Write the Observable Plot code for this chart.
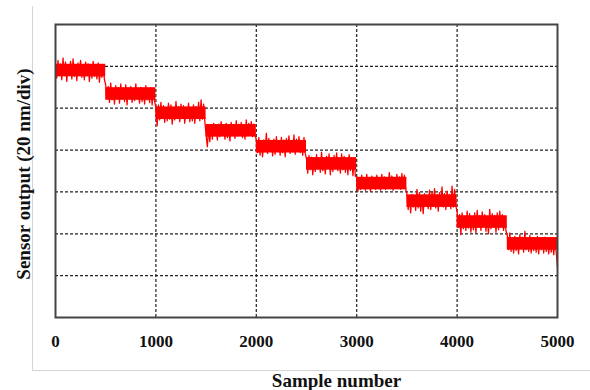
<!DOCTYPE html>
<html><head><meta charset="utf-8">
<script src="https://cdn.jsdelivr.net/npm/d3@7"></script>
<script src="https://cdn.jsdelivr.net/npm/@observablehq/plot@0.6"></script>
<style>
body{margin:0;background:#fff}
#wrap{position:relative;width:590px;height:390px;overflow:hidden}
#box{position:absolute;left:32px;top:6px;width:570px;height:364px;border-left:1px solid #d4d4d4;border-bottom:1px solid #d4d4d4}
#wrap svg{position:absolute;left:0;top:0}
</style>
</head><body>
<div id="wrap"><div id="box"></div></div>
<script>
// Step levels (divisions, 20 nm/div), one per 500-sample step
const levels = [5.90, 5.34, 4.88, 4.46, 4.08, 3.67, 3.20, 2.78, 2.28, 1.76];
// Noise readings around each level, one every 12.5 samples
const n1  = [0.10,-0.18,0.24,-0.06,0.16,-0.22,0.30,-0.12,0.20,-0.26,0.14,-0.08,0.22,-0.20,0.28,-0.14,0.12,-0.24,0.18,-0.10,0.24,-0.16,0.08,-0.22,0.20,-0.12,0.16,-0.26,0.10,-0.18,0.22,-0.14,0.12,-0.20,0.18,-0.28,0.08,-0.16,0.14,-0.22];
const n2  = [0.22,-0.10,0.18,-0.20,0.26,-0.14,0.12,-0.24,0.20,-0.08,0.16,-0.22,0.24,-0.12,0.10,-0.18,0.22,-0.26,0.14,-0.10,0.18,-0.20,0.12,-0.16,0.24,-0.12,0.08,-0.22,0.16,-0.18,0.10,-0.24,0.20,-0.14,0.06,-0.20,0.14,-0.26,0.08,-0.18];
const n3  = [0.14,-0.30,0.20,-0.16,0.26,-0.12,0.18,-0.22,0.10,-0.18,0.24,-0.14,0.20,-0.26,0.12,-0.16,0.28,-0.10,0.16,-0.20,0.22,-0.12,0.18,-0.24,0.14,-0.08,0.24,-0.20,0.10,-0.18,0.20,-0.24,0.16,-0.12,0.26,-0.18,0.32,-0.14,0.22,-0.20];
const n4  = [-0.10,-0.38,0.06,-0.26,0.14,-0.20,0.18,-0.12,0.08,-0.22,0.16,-0.14,0.22,-0.08,0.12,-0.20,0.18,-0.16,0.10,-0.24,0.20,-0.10,0.14,-0.18,0.24,-0.12,0.16,-0.08,0.20,-0.16,0.12,-0.20,0.26,-0.10,0.18,-0.06,0.22,-0.14,0.16,-0.12];
const n5  = [0.18,-0.14,0.22,-0.20,0.12,-0.24,0.16,-0.12,0.32,-0.16,0.20,-0.10,0.14,-0.22,0.18,-0.18,0.24,-0.08,0.12,-0.20,0.22,-0.14,0.16,-0.24,0.20,-0.10,0.26,-0.16,0.14,-0.12,0.28,-0.18,0.18,-0.10,0.24,-0.14,0.12,-0.20,0.22,-0.16];
const n6  = [0.12,-0.22,0.20,-0.14,0.16,-0.26,0.10,-0.18,0.22,-0.12,0.14,-0.20,0.28,-0.16,0.12,-0.24,0.18,-0.10,0.24,-0.26,0.14,-0.18,0.20,-0.12,0.26,-0.16,0.10,-0.22,0.24,-0.14,0.18,-0.20,0.12,-0.26,0.22,-0.16,0.14,-0.28,0.10,-0.30];
const n7  = [0.16,-0.18,0.10,-0.14,0.20,-0.10,0.14,-0.16,0.22,-0.12,0.12,-0.18,0.18,-0.08,0.14,-0.14,0.20,-0.12,0.10,-0.16,0.22,-0.10,0.16,-0.14,0.12,-0.08,0.26,-0.12,0.18,-0.16,0.14,-0.10,0.22,-0.06,0.16,-0.14,0.24,-0.10,0.20,-0.12];
const n8  = [0.18,-0.20,0.12,-0.28,0.16,-0.14,0.08,-0.22,0.28,-0.16,0.20,-0.24,0.12,-0.30,0.18,-0.12,0.14,-0.18,0.26,-0.20,0.22,-0.12,0.30,-0.16,0.16,-0.24,0.20,-0.10,0.34,-0.14,0.18,-0.20,0.24,-0.12,0.16,-0.18,0.36,-0.14,0.28,-0.10];
const n9  = [0.24,-0.12,0.18,-0.30,0.22,-0.16,0.14,-0.20,0.26,-0.14,0.20,-0.24,0.12,-0.18,0.22,-0.26,0.28,-0.12,0.16,-0.20,0.24,-0.10,0.18,-0.22,0.14,-0.28,0.30,-0.16,0.20,-0.12,0.16,-0.24,0.22,-0.18,0.26,-0.10,0.18,-0.20,0.14,-0.22];
const n10 = [0.20,-0.14,0.26,-0.18,0.12,-0.22,0.18,-0.16,0.14,-0.24,0.22,-0.12,0.16,-0.20,0.30,-0.14,0.12,-0.18,0.20,-0.22,0.14,-0.16,0.10,-0.20,0.18,-0.24,0.12,-0.14,0.08,-0.22,0.16,-0.18,0.06,-0.24,0.12,-0.20,0.04,-0.26,0.08,-0.22];
const endValue = 1.2;
const noise = [n1,n2,n3,n4,n5,n6,n7,n8,n9,n10];
const xTicks = [0,1000,2000,3000,4000,5000];
const xGrid = [1000,2000,3000,4000];
const yGrid = [1,2,3,4,5,6];

const signal = [];
noise.forEach((arr,k)=>arr.forEach((v,j)=>signal.push({sample:k*500+j*12.5, value:levels[k]+v})));
signal.push({sample:5000, value:endValue});
const steps = levels.map((v,k)=>({x1:k*500, x2:k*500+500, level:v}));

const chart = Plot.plot({
  width:590, height:390,
  marginLeft:55, marginRight:33, marginTop:24, marginBottom:73,
  style:{fontFamily:"'Liberation Serif', 'Times New Roman', serif", fontWeight:"bold", fontSize:"17px", background:"transparent", color:"#111"},
  x:{domain:[0,5000], ticks:xTicks, tickSize:0, tickPadding:17, label:null, tickFormat:d=>String(d)},
  y:{domain:[0,7], axis:null},
  marks:[
    Plot.gridY(yGrid,{stroke:"#222", strokeOpacity:1, strokeDasharray:"3,2", strokeWidth:1.2}),
    Plot.gridX(xGrid,{stroke:"#222", strokeOpacity:1, strokeDasharray:"3,2", strokeWidth:1.2}),
    Plot.rect(steps,{x1:"x1", x2:"x2", y1:d=>d.level-0.15, y2:d=>d.level+0.15, fill:"#ff0000"}),
    Plot.line(signal,{x:"sample", y:"value", stroke:"#ff0000", strokeWidth:1.3}),
    Plot.frame({stroke:"#444", strokeWidth:2}),
    Plot.text(["Sample number"],{frameAnchor:"bottom", textAnchor:"middle", dx:30, dy:69, fontSize:19, fontWeight:"bold", letterSpacing:"1px"}),
    Plot.text(["Sensor output (20 nm/div)"],{frameAnchor:"left", textAnchor:"middle", rotate:-90, dx:-32, dy:3, fontSize:19, fontWeight:"bold"})
  ]
});
document.getElementById("wrap").appendChild(chart);
</script>
</body></html>
